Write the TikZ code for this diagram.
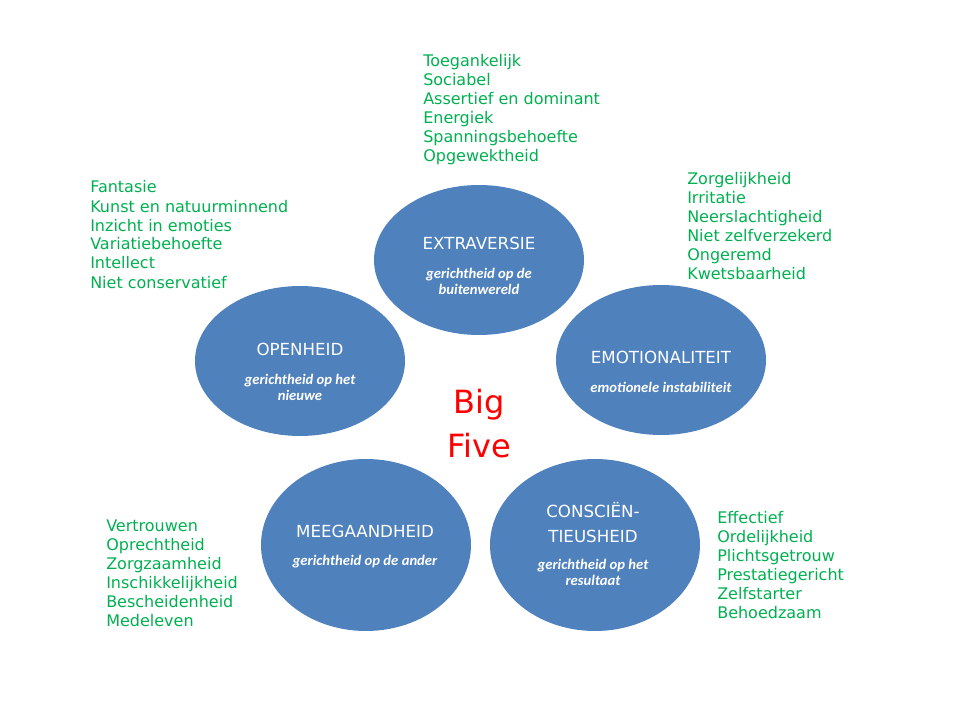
\documentclass[tikz,border=0pt]{standalone}
\usepackage{fontspec}
\setmainfont{DejaVu Sans}
\newfontfamily\subfont{Carlito}
\usetikzlibrary{shapes.geometric}
\definecolor{traitblue}{HTML}{4F81BD}
\definecolor{facetgreen}{HTML}{00B050}

\begin{document}
\begin{tikzpicture}[
    x=0.75pt, y=-0.75pt,
    trait/.style={ellipse, fill=traitblue, minimum width=157.5pt, minimum height=112.5pt, inner sep=0pt},
    traitlow/.style={trait, minimum height=129pt},
    traitname/.style={anchor=base, text=white, align=center, inner sep=0pt, font=\fontsize{12.5}{18.75}\selectfont},
    traitsub/.style={anchor=base, text=white, align=center, inner sep=0pt, font=\subfont\bfseries\itshape\fontsize{11}{12}\selectfont},
    facets/.style={anchor=base west, text=facetgreen, align=left, inner sep=0pt, font=\fontsize{12}{14.25}\selectfont},
]
  \useasboundingbox (0,0) rectangle (960,720);

  \node[trait] (extra) at (479,260) {};
  \node[trait] (emot) at (661,360) {};
  \node[trait] (open) at (300,361) {};
  \node[traitlow] (meeg) at (366,545) {};
  \node[traitlow] (consc) at (595,545) {};

  % multi-line nodes sit on the baseline of their last line
  \node[traitname] (extra-name) at (479,250) {EXTRAVERSIE};
  \node[traitsub] (extra-sub) at (479,295) {gerichtheid op de\\buitenwereld};
  \node[traitname] (emot-name) at (661,363) {EMOTIONALITEIT};
  \node[traitsub] (emot-sub) at (661,392) {emotionele instabiliteit};
  \node[traitname] (open-name) at (300,355) {OPENHEID};
  \node[traitsub] (open-sub) at (300,400) {gerichtheid op het\\nieuwe};
  \node[traitname] (meeg-name) at (365,537) {MEEGAANDHEID};
  \node[traitsub] (meeg-sub) at (365,565) {gerichtheid op de ander};
  \node[traitname] (consc-name) at (593,542) {CONSCIËN-\\TIEUSHEID};
  \node[traitsub] (consc-sub) at (593,585) {gerichtheid op het\\resultaat};

  \node[anchor=base, text=red, align=center, inner sep=0pt, font=\fontsize{24}{33}\selectfont] (bigfive) at (479,457) {Big\\Five};

  % facetten per dimensie
  \node[facets] (extra-facets) at (423,162) {Toegankelijk\\Sociabel\\Assertief en dominant\\Energiek\\Spanningsbehoefte\\Opgewektheid};
  \node[facets] (open-facets) at (90,288) {Fantasie\\Kunst en natuurminnend\\Inzicht in emoties\\Variatiebehoefte\\Intellect\\Niet conservatief};
  \node[facets] (emot-facets) at (687,280) {Zorgelijkheid\\Irritatie\\Neerslachtigheid\\Niet zelfverzekerd\\Ongeremd\\Kwetsbaarheid};
  \node[facets] (meeg-facets) at (106,626) {Vertrouwen\\Oprechtheid\\Zorgzaamheid\\Inschikkelijkheid\\Bescheidenheid\\Medeleven};
  \node[facets] (consc-facets) at (717,618) {Effectief\\Ordelijkheid\\Plichtsgetrouw\\Prestatiegericht\\Zelfstarter\\Behoedzaam};
\end{tikzpicture}
\end{document}
